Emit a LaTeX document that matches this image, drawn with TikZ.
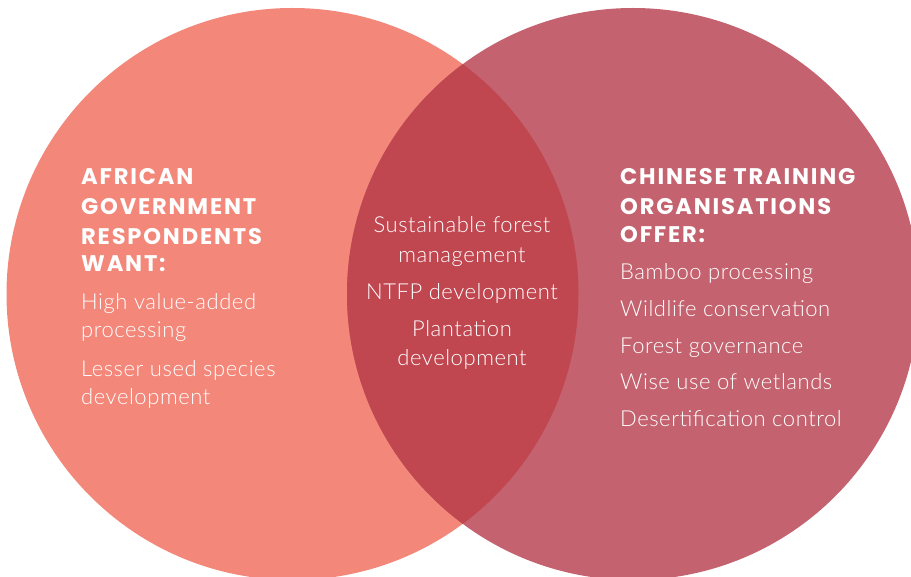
\documentclass[tikz,border=0pt]{standalone}
\usepackage{fontspec}
\setmainfont{Lato}[UprightFont=* Light,LetterSpace=2.5]
\newfontfamily\headfont{Poppins}[UprightFont=* Bold,LetterSpace=8]
\definecolor{wantfill}{HTML}{F2877A}
\definecolor{offerfill}{HTML}{C4636F}
\definecolor{bothfill}{HTML}{C04650}
\begin{document}
\begin{tikzpicture}[x=1pt,y=-1pt,
  head/.style={anchor=base west,inner sep=0pt,text=white,font=\headfont\fontsize{22.6}{24}\selectfont},
  item/.style={anchor=base west,inner sep=0pt,text=white,font=\fontsize{22}{24}\selectfont},
  mid/.style={anchor=base,inner sep=0pt,text=white,font=\fontsize{22}{24}\selectfont}]
\useasboundingbox (0,0) rectangle (911,577);
\begin{scope}
  \clip (0,0) rectangle (911,577);
  \fill[wantfill] (292.5,294) circle[radius=286];
  \fill[offerfill] (633,294) circle[radius=286];
  \begin{scope}
    \clip (292.5,294) circle[radius=286];
    \fill[bothfill] (633,294) circle[radius=286];
  \end{scope}
\end{scope}
% left set
\node[head] (w1) at (81,185) {AFRICAN};
\node[head] (w2) at (81,215) {GOVERNMENT};
\node[head] (w3) at (81,245) {RESPONDENTS};
\node[head] (w4) at (81,272) {WANT:};
\node[item] (a1) at (81,310) {High value-added};
\node[item] (a2) at (81,338) {processing};
\node[item] (a3) at (81,377) {Lesser used species};
\node[item] (a4) at (81,405) {development};
% shared
\node[mid] (m1) at (462,233) {Sustainable forest};
\node[mid] (m2) at (462,263) {management};
\node[mid] (m3) at (462,300) {NTFP development};
\node[mid] (m4) at (462,337) {Plantation};
\node[mid] (m5) at (462,366) {development};
% right set
\node[head] (o1) at (620,185) {CHINESE TRAINING};
\node[head] (o2) at (620,215) {ORGANISATIONS};
\node[head] (o3) at (620,243) {OFFER:};
\node[item] (b1) at (620,280) {Bamboo processing};
\node[item] (b2) at (620,317) {Wildlife conservation};
\node[item] (b3) at (620,354) {Forest governance};
\node[item] (b4) at (620,390) {Wise use of wetlands};
\node[item] (b5) at (620,427) {Desertification control};
\end{tikzpicture}
\end{document}
